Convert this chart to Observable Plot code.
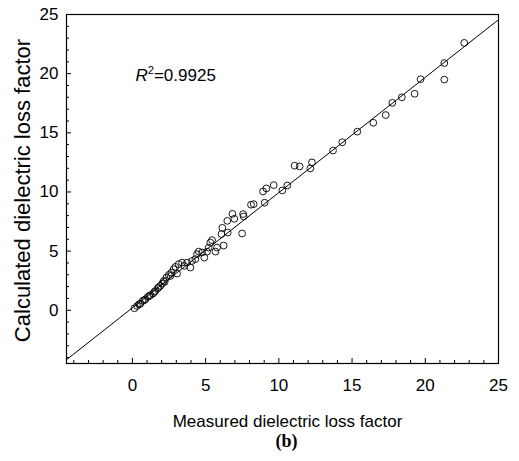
<!DOCTYPE html>
<html><head><meta charset="utf-8">
<script src="https://cdn.jsdelivr.net/npm/d3@7"></script>
<script src="https://cdn.jsdelivr.net/npm/@observablehq/plot@0.6"></script>
<style>body{margin:0;background:#fff} svg{display:block}</style>
</head><body><div id="chart"></div>
<script>
const measured = [
  0.14,0.32,0.45,0.55,0.70,0.80,0.89,1.05,1.15,1.23,1.41,1.50,1.57,1.73,1.80,1.91,2.03,2.14,2.20,2.32,2.48,2.60,2.66,2.82,2.94,3.05,3.16,
  3.39,3.54,3.73,3.96,4.07,4.30,4.41,4.53,4.76,4.91,5.10,5.21,5.32,5.44,5.67,5.78,6.23,6.08,6.51,
  6.14,6.48,6.83,6.96,7.49,7.56,7.60,
  8.10,8.28,9.03,8.92,9.15,9.65,10.24,10.58,11.08,11.42,12.15,12.26,
  13.70,14.33,15.36,16.45,17.30,17.75,18.40,19.27,19.68,21.30,21.30,22.66
];
const calculated = [
  0.17,0.36,0.50,0.56,0.79,0.85,0.93,1.13,1.20,1.27,1.41,1.55,1.63,1.86,1.95,2.06,2.25,2.48,2.40,2.76,2.99,2.90,3.18,3.47,3.67,3.10,3.90,
  4.03,3.75,4.03,3.61,4.17,4.32,4.74,4.96,4.88,4.45,4.96,5.30,5.72,5.93,4.96,5.30,5.47,6.44,6.57,
  6.97,7.56,8.15,7.73,6.49,8.13,7.93,
  8.92,8.97,9.09,10.04,10.30,10.58,10.13,10.55,12.22,12.16,11.99,12.50,
  13.50,14.20,15.10,15.85,16.50,17.53,18.00,18.30,19.53,19.50,20.90,22.60
];
const fitMeasured = [-4.5, 25];
const fitCalculated = [-4.18, 24.56];
const majorTicks = [0, 5, 10, 15, 20, 25];
const minorTicks = [-4,-3,-2,-1,1,2,3,4,6,7,8,9,11,12,13,14,16,17,18,19,21,22,23,24];
const xTitle = "Measured dielectric loss factor";
const yTitle = "Calculated dielectric loss factor";
const panelLabel = "(b)";
const r2Label = "R2=0.9925";

const points = measured.map((m, i) => ({m, c: calculated[i]}));
const fit = fitMeasured.map((m, i) => ({m, c: fitCalculated[i]}));

const chart = Plot.plot({
  width: 519, height: 461,
  marginTop: 14, marginBottom: 98, marginLeft: 66, marginRight: 21,
  style: {fontFamily: "'Liberation Sans', Arial, sans-serif", fontSize: "17px", color: "#000", background: "#fff"},
  x: {domain: [-4.5, 25]},
  y: {domain: [-4.5, 25]},
  marks: [
    Plot.axisX({ticks: minorTicks, tickSize: -3, tickFormat: () => "", label: null, stroke: "#000"}),
    Plot.axisY({ticks: minorTicks, tickSize: -3, tickFormat: () => "", label: null, stroke: "#000"}),
    Plot.axisX({ticks: majorTicks, tickSize: -5, tickPadding: 20, label: null, stroke: "#000", fill: "#000"}),
    Plot.axisY({ticks: majorTicks, tickSize: -5, tickPadding: 13, label: null, stroke: "#000", fill: "#000"}),
    Plot.line(fit, {x: "m", y: "c", stroke: "#000", strokeWidth: 1}),
    Plot.dot(points, {x: "m", y: "c", r: 3.4, stroke: "#000", strokeWidth: 0.9, fill: "none"}),
    Plot.frame({stroke: "#000", strokeWidth: 1.2}),
    Plot.text([r2Label], {frameAnchor: "top-left", dx: 69, dy: 54, textAnchor: "start", fontSize: 17, fill: "#000", className: "r2"}),
    Plot.text([xTitle], {frameAnchor: "bottom", dx: 5, dy: 63, lineAnchor: "bottom", fontSize: 17, fill: "#000"}),
    Plot.text([panelLabel], {frameAnchor: "bottom", dx: 4, dy: 83, lineAnchor: "bottom", fontSize: 18, fontWeight: "bold", fontFamily: "'Liberation Serif', 'Times New Roman', serif", fill: "#000"}),
    Plot.text([yTitle], {frameAnchor: "left", dx: -37, dy: 1.5, rotate: -90, textAnchor: "middle", lineAnchor: "bottom", fontSize: 22, fill: "#000"})
  ]
});
document.getElementById("chart").appendChild(chart);
// style the R² label: italic R and superscript 2
d3.select(chart).selectAll(".r2 text").each(function() {
  const t = d3.select(this);
  const s = t.text();
  t.text(null);
  t.append("tspan").attr("font-style", "italic").text(s[0]);
  t.append("tspan").attr("font-size", 11).attr("dy", -7).text(s[1]);
  t.append("tspan").attr("dy", 7).text(s.slice(2));
});
</script>
</body></html>
